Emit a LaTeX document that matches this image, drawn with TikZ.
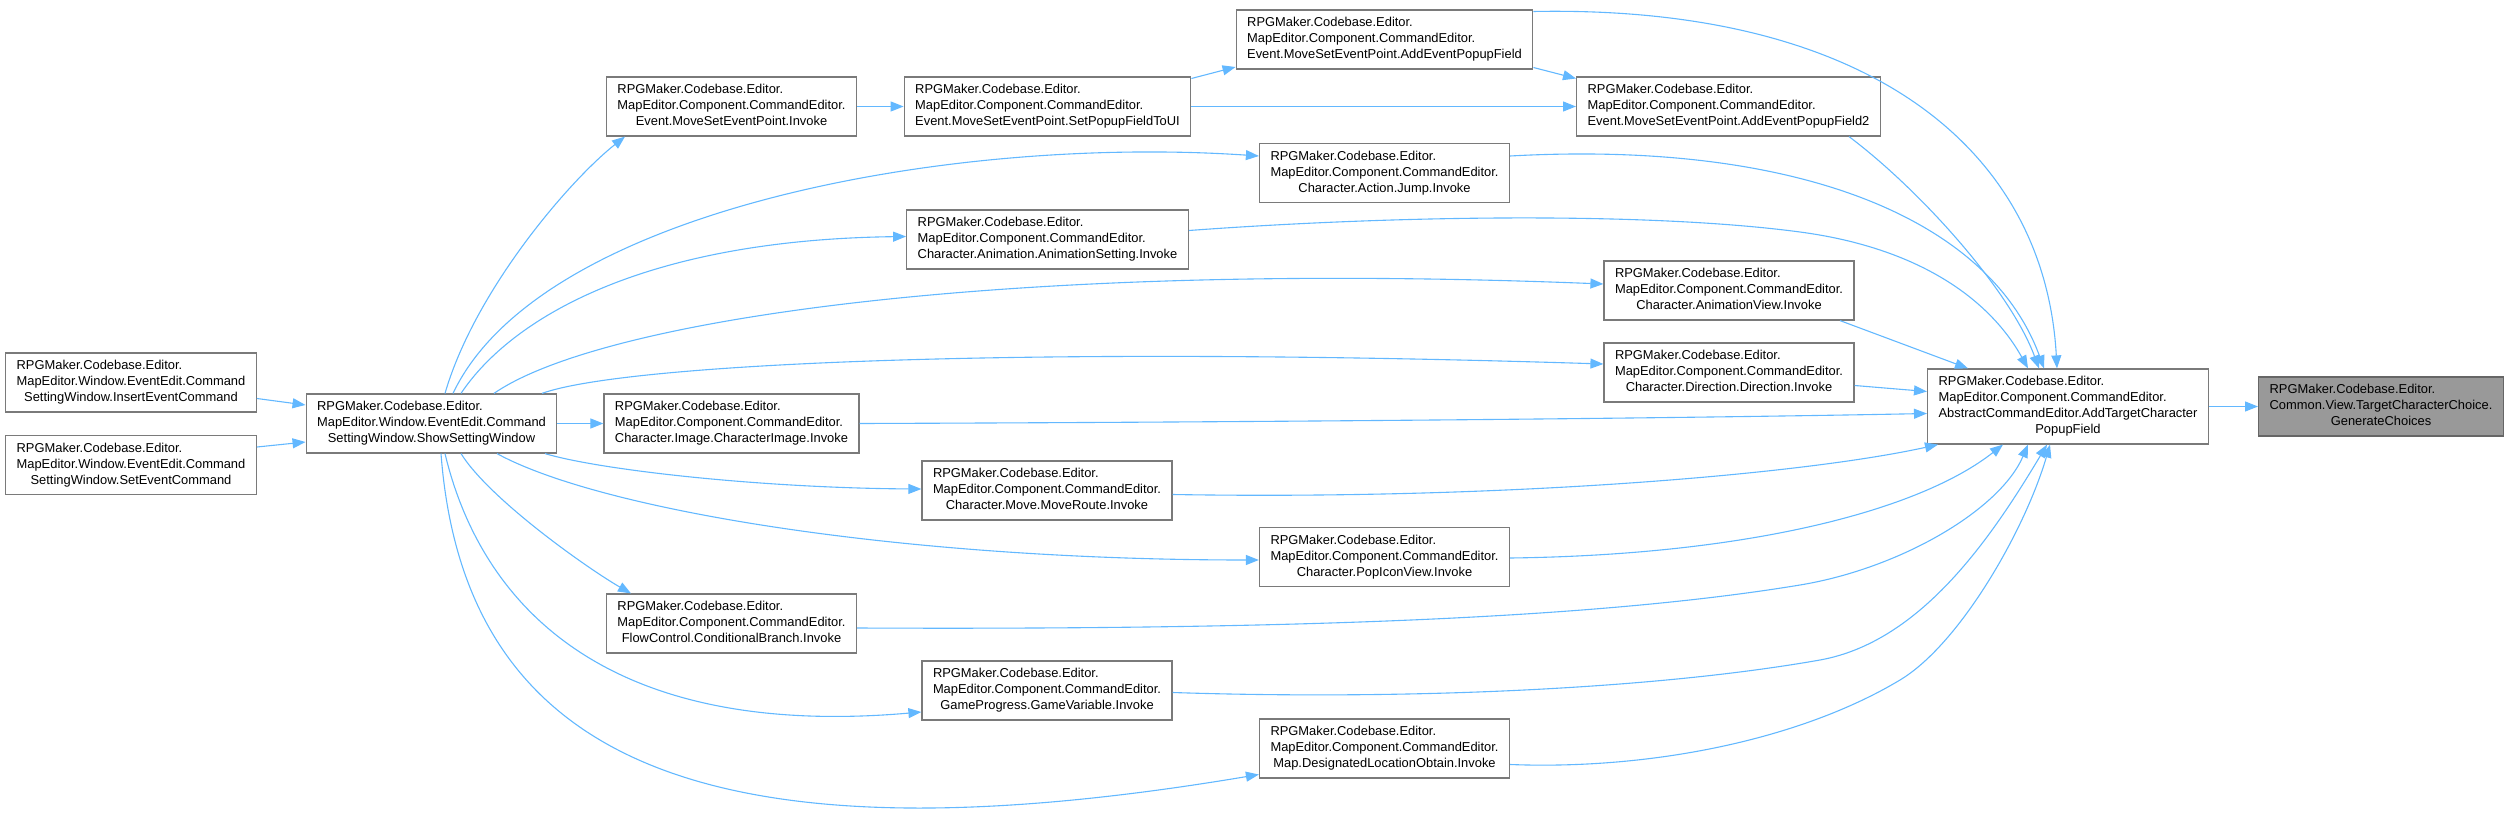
\documentclass[tikz,border=0pt]{standalone}
\usepackage{fontspec}
\setmainfont{Liberation Sans}
\usetikzlibrary{arrows.meta}
\definecolor{edgec}{HTML}{63B8FF}
\definecolor{boxc}{HTML}{7A7A7A}
\definecolor{rootc}{HTML}{999999}
\newcommand\boxthree[3]{\begin{tabular}{@{}l@{}}#1\\#2\\\multicolumn{1}{@{}c@{}}{#3}\end{tabular}}
\newcommand\boxfour[4]{\begin{tabular}{@{}l@{}}#1\\#2\\#3\\\multicolumn{1}{@{}c@{}}{#4}\end{tabular}}
\newcommand\rc{RPGMaker.Codebase.Editor.}
\newcommand\mc{MapEditor.Component.CommandEditor.}
\newcommand\mw{MapEditor.Window.EventEdit.Command}
\tikzset{
  fn/.style={draw=boxc, line width=1.2pt, fill=white, inner xsep=11pt, inner ysep=5.5pt,
             font=\fontsize{12.9}{16}\selectfont, anchor=center},
  rootnode/.style={fn, fill=rootc, draw=black!60},
  edge/.style={draw=edgec, line width=1.1pt, -{Triangle[length=13pt,width=10pt]}}
}
\begin{document}
\begin{tikzpicture}[x=1pt,y=-1pt]
\useasboundingbox (0,0) rectangle (2508,813);
% nodes
\node[fn] (insert) at (131,382.5) {\boxthree{\rc}{\mw}{SettingWindow.InsertEventCommand}};
\node[fn] (setevent) at (131,465) {\boxthree{\rc}{\mw}{SettingWindow.SetEventCommand}};
\node[fn] (show) at (431.5,423.5) {\boxthree{\rc}{\mw}{SettingWindow.ShowSettingWindow}};
\node[fn] (msinvoke) at (731.5,106.5) {\boxthree{\rc}{\mc}{Event.MoveSetEventPoint.Invoke}};
\node[fn] (charimage) at (731.5,423.5) {\boxthree{\rc}{\mc}{Character.Image.CharacterImage.Invoke}};
\node[fn] (condbranch) at (731.5,623.5) {\boxthree{\rc}{\mc}{FlowControl.ConditionalBranch.Invoke}};
\node[fn] (setpopup) at (1047.5,106.5) {\boxthree{\rc}{\mc}{Event.MoveSetEventPoint.SetPopupFieldToUI}};
\node[fn] (animsetting) at (1047.5,239.5) {\boxthree{\rc}{\mc}{Character.Animation.AnimationSetting.Invoke}};
\node[fn] (moveroute) at (1047,490.5) {\boxthree{\rc}{\mc}{Character.Move.MoveRoute.Invoke}};
\node[fn] (gamevar) at (1047,690.5) {\boxthree{\rc}{\mc}{GameProgress.GameVariable.Invoke}};
\node[fn] (addevent) at (1384.5,39.5) {\boxthree{\rc}{\mc}{Event.MoveSetEventPoint.AddEventPopupField}};
\node[fn] (jump) at (1384.5,173) {\boxthree{\rc}{\mc}{Character.Action.Jump.Invoke}};
\node[fn] (popicon) at (1384.5,557) {\boxthree{\rc}{\mc}{Character.PopIconView.Invoke}};
\node[fn] (designated) at (1384.5,748.5) {\boxthree{\rc}{\mc}{Map.DesignatedLocationObtain.Invoke}};
\node[fn] (addevent2) at (1728.5,106.5) {\boxthree{\rc}{\mc}{Event.MoveSetEventPoint.AddEventPopupField2}};
\node[fn] (animview) at (1729,290.5) {\boxthree{\rc}{\mc}{Character.AnimationView.Invoke}};
\node[fn] (direction) at (1729,372.5) {\boxthree{\rc}{\mc}{Character.Direction.Direction.Invoke}};
\node[fn] (addtarget) at (2068,406.5) {\boxfour{\rc}{\mc}{AbstractCommandEditor.AddTargetCharacter}{PopupField}};
\node[rootnode] (generate) at (2381,406.5) {\boxthree{\rc}{Common.View.TargetCharacterChoice.}{GenerateChoices}};
% edges
\draw[edge] ([yshift=-16pt]insert.east) -- ([yshift=18.5pt]show.west);
\draw[edge] ([yshift=18pt]setevent.east) -- ([yshift=-18.5pt]show.west);
\draw[edge] ([xshift=13.5pt]show.north) .. controls (475,290) and (570,180) .. ([xshift=-106.5pt]msinvoke.south);
\draw[edge] ([xshift=21.5pt]show.north) .. controls (540,210) and (950,135) .. ([yshift=17pt]jump.west);
\draw[edge] ([xshift=29.5pt]show.north) .. controls (510,320) and (640,240) .. ([yshift=3pt]animsetting.west);
\draw[edge] ([xshift=62.5pt]show.north) .. controls (600,320) and (1000,260) .. ([yshift=6.5pt]animview.west);
\draw[edge] ([xshift=110.5pt]show.north) .. controls (620,365) and (1000,345) .. ([yshift=8.5pt]direction.west);
\draw[edge] (show.east) -- (charimage.west);
\draw[edge] ([xshift=113.5pt]show.south) .. controls (600,470) and (760,488) .. ([yshift=1.5pt]moveroute.west);
\draw[edge] ([xshift=65.5pt]show.south) .. controls (600,510) and (900,560) .. ([yshift=-3pt]popicon.west);
\draw[edge] ([xshift=29.5pt]show.south) .. controls (490,500) and (590,570) .. ([xshift=-100.5pt]condbranch.north);
\draw[edge] ([xshift=13.5pt]show.south) .. controls (480,600) and (600,740) .. ([yshift=-21.5pt]gamevar.west);
\draw[edge] ([xshift=9.5pt]show.south) .. controls (465,770) and (720,865) .. ([yshift=-26pt]designated.west);
\draw[edge] (msinvoke.east) -- (setpopup.west);
\draw[edge] ([yshift=28pt]setpopup.east) -- ([yshift=-27.5pt]addevent.west);
\draw[edge] (setpopup.east) -- (addevent2.west);
\draw[edge] ([yshift=-28pt]addevent.east) -- ([yshift=28pt]addevent2.west);
\draw[edge] ([yshift=28pt]addevent.east) .. controls (1870,5) and (2045,150) .. ([xshift=-11pt]addtarget.north);
\draw[edge] ([xshift=120.5pt]addevent2.south) .. controls (1920,190) and (2010,290) .. ([xshift=-29pt]addtarget.north);
\draw[edge] ([yshift=17pt]jump.east) .. controls (1800,140) and (1990,220) .. ([xshift=-24pt]addtarget.north);
\draw[edge] ([yshift=9pt]animsetting.east) .. controls (1400,215) and (1650,212) .. (1800,232)
   .. controls (1920,248) and (1990,300) .. ([xshift=-40pt]addtarget.north);
\draw[edge] ([xshift=111pt]animview.south) -- ([xshift=-100pt]addtarget.north);
\draw[edge] ([yshift=-13pt]direction.east) -- ([yshift=15pt]addtarget.west);
\draw[edge] (charimage.east) .. controls (1300,422) and (1700,418) .. ([yshift=-7pt]addtarget.west);
\draw[edge] ([yshift=-4pt]moveroute.east) .. controls (1500,500) and (1800,475) .. ([xshift=-130pt]addtarget.south);
\draw[edge] ([yshift=-1pt]popicon.east) .. controls (1750,555) and (1920,510) .. ([xshift=-65pt]addtarget.south);
\draw[edge] ([yshift=-4.5pt]condbranch.east) .. controls (1300,630) and (1600,618) .. (1800,585)
   .. controls (1900,568.5) and (2000,510) .. ([xshift=-40pt]addtarget.south);
\draw[edge] ([yshift=-2pt]gamevar.east) .. controls (1400,700) and (1650,690) .. (1820,660)
   .. controls (1920,642) and (1990,540) .. ([xshift=-21pt]addtarget.south);
\draw[edge] ([yshift=-16pt]designated.east) .. controls (1650,770) and (1800,740) .. (1900,680)
   .. controls (1960,644) and (2025,530) .. ([xshift=-18pt]addtarget.south);
\draw[edge] (addtarget.east) -- (generate.west);
\end{tikzpicture}
\end{document}
